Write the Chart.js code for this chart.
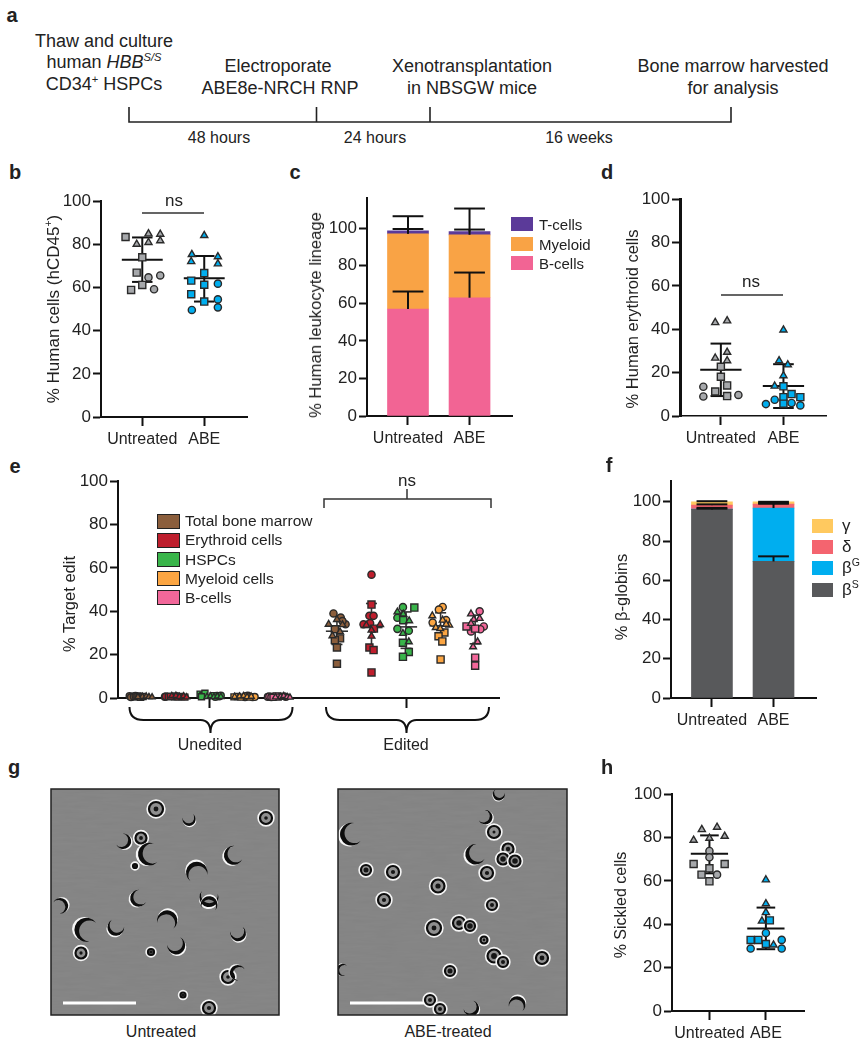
<!DOCTYPE html>
<html lang="en">
<head>
<meta charset="UTF-8">
<title>ABE editing panels</title>
<script src="https://cdn.jsdelivr.net/npm/chart.js"></script>
<style>
    html, body { margin: 0; padding: 0; background: #fff; }
    #page { position: relative; width: 868px; height: 1050px; overflow: hidden; font-family: "Liberation Sans", Arial, sans-serif; color: #222; }
    #page canvas { position: absolute; }
    #art { position: absolute; left: 0; top: 0; }
    .t { position: absolute; white-space: nowrap; transform: translate(-50%, -50%); }
    .swatch { position: absolute; box-sizing: border-box; }
    sup { font-size: 62%; line-height: 0; }
</style>
</head>
<body>
<div id="page">
    <svg id="art" width="868" height="1050" xmlns="http://www.w3.org/2000/svg"></svg>
</div>
<script>
    // shared
    const groupLabels = ['Untreated', 'ABE'];
    const percentTicks = [0, 20, 40, 60, 80, 100];
    const grey = '#a6a8ab', blue = '#00aeef';

    // b: [jitter from group centre, value]
    const bUntreatedTri = [[.10,84.9],[.29,84.7],[.29,81.7],[.10,80.9],[-.09,80.1]];
    const bUntreatedSq = [[-.27,83.4],[0,74],[-.09,66.9],[0,61.2],[-.18,58.9]];
    const bUntreatedCirc = [[.10,64.7],[.29,65.6],[.19,59.2]];
    const bAbeTri = [[0,84.1],[-.20,75.3],[.22,74.3],[-.21,72],[.22,71]];
    const bAbeSq = [[0,66.7],[-.21,63.2],[0,61.3],[-.21,56.9],[0,53.5]];
    const bAbeCirc = [[.22,61.8],[.22,54.5],[.22,50.8],[-.20,49.6]];
    const bStats = [{x:1,mean:72.9,hi:83.2,lo:62.6},{x:2,mean:64.3,hi:74.6,lo:53.5}];

    // c
    const cBcells = [57, 63];
    const cMyeloid = [40, 33.5];
    const cTcells = [1.6, 1.7];
    const cBcellsTop = [66.3, 76.4];
    const cMyeloidTop = [99.6, 99.3];
    const cTcellsTop = [106.4, 110.5];

    // d
    const dUntreatedTri = [[-.09,43.1],[.10,43.9],[.10,29.4],[-.09,26.7],[.10,25.5]];
    const dUntreatedSq = [[0,22.7],[0,18.1],[.10,14.1],[-.09,11.3],[.10,9.2]];
    const dUntreatedCirc = [[-.28,13.5],[-.28,9],[.28,9.7]];
    const dAbeTri = [[0,39.7],[-.07,25.5],[.07,23.6],[0,18.6],[-.14,13.8]];
    const dAbeSq = [[0,13.7],[.13,10.1],[.27,8.7],[0,8.7],[0,5.7]];
    const dAbeCirc = [[-.14,7.5],[.13,6],[-.28,5.5],[.27,4.9]];
    const dStats = [{x:1,mean:21.3,hi:33.4,lo:9.2},{x:2,mean:13.8,hi:23.9,lo:3.7}];

    // e
    const eCentres = [1, 2, 3, 4, 5, 6.68, 7.68, 8.68, 9.68, 10.68];
    const eColors = ['#8b5e3c', '#be1e2d', '#39b54a', '#fba542', '#f2679a'];
    const eLegend = ['Total bone marrow', 'Erythroid cells', 'HSPCs', 'Myeloid cells', 'B-cells'];
    const eTickValues = [3, 8.68];
    const eTickLabels = ['Unedited', 'Edited'];
    const eUneditedTri = [
        [[.05,.6],[.16,.8],[.24,.5],[.33,.4],[-.08,.5]],
        [[-.1,1],[.02,1.1],[.12,.6],[.24,.9],[.33,.4]],
        [[-.08,.6],[.02,.9],[.12,.5],[.22,.8],[.32,.6]],
        [[-.28,.6],[-.14,.8],[-.02,1],[.08,.5],[.2,.7]],
        [[.05,.6],[.14,1],[.24,.5],[.32,.3],[-.1,.4]]
    ];
    const eUneditedSq = [
        [[-.13,.5],[-.08,.9],[-.04,.6],[0,.3],[.07,.7]],
        [[-.2,.6],[-.14,.8],[.08,.4],[.18,.7],[.28,.4]],
        [[-.28,1.8],[-.2,1.2],[-.14,2.2],[-.24,.6],[.1,1.1]],
        [[-.3,.5],[-.2,.7],[-.1,.4],[.06,.9],[.16,.4]],
        [[-.14,.7],[-.08,1],[-.02,.4],[-.17,.3],[.1,.8]]
    ];
    const eUneditedCirc = [
        [[-.32,.9],[-.28,.4],[-.2,.7],[-.15,1]],
        [[-.3,.5],[-.27,.7],[-.06,.6],[.04,.9]],
        [[.2,1],[.27,.7],[.32,1.1],[.16,.5]],
        [[.24,.4],[.3,.5],[.1,1.1],[.02,.4]],
        [[-.32,.5],[-.28,.7],[-.22,.4],[.2,.5]]
    ];
    const eEditedTri = [
        [[0,36.2],[-.24,34],[.16,33.8],[-.13,28.7],[.09,30.5]],
        [[-.15,33.6],[.25,33.9],[0,31.3],[0,28.5]],
        [[-.25,39.7],[-.08,38.7],[.09,35.6],[-.09,29.8],[.08,25.9]],
        [[-.24,37.9],[.06,35.9],[.25,33.6],[-.14,32.5],[-.01,32],[.16,34]],
        [[-.12,38.8],[-.04,36.2],[.13,36.7],[-.12,34.4],[.07,25.9],[-.06,23.6]]
    ];
    const eEditedSq = [
        [[-.06,31.7],[.09,27.5],[-.06,26.7],[0,23.3],[0,15.8]],
        [[0,43.1],[.07,32],[-.06,23.3],[.06,22.1],[0,11.8]],
        [[.24,41.7],[-.08,35.9],[-.09,25.5],[.08,21.2],[-.09,19]],
        [[.11,30.2],[-.06,28.5],[.05,26.1],[0,17.8]],
        [[-.25,33],[0,32],[0,18.6],[0,14.9]]
    ];
    const eEditedCirc = [
        [[-.1,39],[.11,37.1],[.25,34],[.16,35.5]],
        [[0,56.9],[-.06,37.9],[.06,37.9],[-.23,34],[-.04,34.5]],
        [[-.09,41.9],[-.25,37],[-.25,31.9],[.08,31]],
        [[.06,42],[-.05,40.8],[-.23,34.8],[.16,35.9]],
        [[.13,40],[.25,33],[-.12,30.7],[.15,31.7]]
    ];
    const eEditedMean = [30.8, 32.5, 32.8, 33.3, 32.4];
    const eEditedHi = [38, 43.6, 39.7, 39.3, 38.2];
    const eEditedLo = [24.7, 22.5, 22.9, 27.1, 25];

    // f
    const fBetaS = [96.1, 69.6];
    const fBetaG = [.2, 27.2];
    const fDelta = [2, 2];
    const fGamma = [1.7, 1.2];
    const fBetaSTop = [96.5, 72.2];
    const fBetaGTop = [96.9, 99];
    const fDeltaTop = [98.7, 99.4];
    const fGammaTop = [100.3, 100];

    // h
    const hUntreatedTri = [[.135,84.8],[-.135,83.7],[.27,80.6],[0,79.7],[-.28,78.8]];
    const hUntreatedSq = [[-.28,67.8],[.27,67.8],[0,65.8],[-.14,62.9],[0,59.8]];
    const hUntreatedCirc = [[0,73.8],[0,70.9],[.135,62.9]];
    const hAbeTri = [[0,60.5],[0,49.5],[0,45.4],[-.07,41.5],[.135,30.5]];
    const hAbeSq = [[.07,41.8],[-.27,32.8],[-.135,32.8],[0,30.9]];
    const hAbeCirc = [[0,36],[.28,32.8],[-.27,28.8],[.28,28.8]];
    const hStats = [{x:1,mean:72.5,hi:81,lo:63.5},{x:2,mean:38,hi:47.7,lo:28.5}];

    const page = document.getElementById('page');
    const art = document.getElementById('art');

    function txt(html, cx, cy, size, extra) {
        const s = document.createElement('span');
        s.className = 't';
        s.innerHTML = html;
        s.style.left = cx + 'px';
        s.style.top = cy + 'px';
        s.style.fontSize = size + 'px';
        if (extra && extra.rot) s.style.transform = 'translate(-50%,-50%) rotate(-90deg)';
        if (extra && extra.bold) s.style.fontWeight = 'bold';
        if (extra && extra.left) s.style.transform = 'translate(0,-50%)';
        page.appendChild(s);
    }

    function swatch(x, y, w, h, color, border) {
        const d = document.createElement('div');
        d.className = 'swatch';
        d.style.cssText = `left:${x}px;top:${y}px;width:${w}px;height:${h}px;background:${color};` + (border ? `border:${border};` : '');
        page.appendChild(d);
    }

    // mean line + sd whiskers, read through the chart's scales
    function statsPlugin(items, opts) {
        function draw(chart) {
            const x = chart.scales.x, y = chart.scales.y, c = chart.ctx;
            c.save();
            c.strokeStyle = opts.color || '#111';
            c.lineWidth = opts.width || 2;
            const seg = (x1, y1, x2, y2) => {
                c.beginPath();
                c.moveTo(x.getPixelForValue(x1), y.getPixelForValue(y1));
                c.lineTo(x.getPixelForValue(x2), y.getPixelForValue(y2));
                c.stroke();
            };
            items.forEach(it => {
                seg(it.x, it.lo !== undefined ? it.lo : it.base, it.x, it.hi);
                seg(it.x - opts.cap, it.hi, it.x + opts.cap, it.hi);
                if (it.lo !== undefined) seg(it.x - opts.cap, it.lo, it.x + opts.cap, it.lo);
                if (it.mean !== undefined) seg(it.x - opts.meanHalf, it.mean, it.x + opts.meanHalf, it.mean);
            });
            c.restore();
        }
        return {
            id: 'stats',
            beforeDatasetsDraw(chart) { if (opts.behind) draw(chart); },
            afterDatasetsDraw(chart) { if (!opts.behind) draw(chart); }
        };
    }

    function markers(centre, pairs, shape, color, size) {
        const r = (shape === 'rect' ? 5 : shape === 'circle' ? 3.6 : 4.1) * (size || 1);
        return {
            data: pairs.map(p => ({ x: centre + p[0], y: p[1] })),
            pointStyle: shape,
            pointRadius: r,
            pointBackgroundColor: color,
            pointBorderColor: '#2a2a2a',
            pointBorderWidth: 1.4,
            showLine: false,
            clip: false
        };
    }

    function panel(box, type, datasets, o) {
        const left = 64, top = 12, right = 8, bottom = o.bottom || 44;
        const cv = document.createElement('canvas');
        const w = box.x1 - box.x0 + left + right, h = box.y1 - box.y0 + top + bottom;
        cv.width = w; cv.height = h;
        cv.style.cssText = `left:${box.x0 - left}px;top:${box.y0 - top}px;width:${w}px;height:${h}px;`;
        page.appendChild(cv);
        return new Chart(cv, {
            type: type,
            data: { datasets: datasets },
            plugins: o.plugins || [],
            options: {
                responsive: false,
                animation: false,
                layout: { padding: { left: 0, right: right, top: top, bottom: 0 } },
                plugins: { legend: { display: false }, tooltip: { enabled: false } },
                scales: {
                    x: {
                        type: 'linear', min: o.xMin, max: o.xMax, offset: false, stacked: type === 'bar',
                        afterBuildTicks: s => { s.ticks = o.xTicks.map(v => ({ value: v })); },
                        afterFit: s => { s.height = bottom; },
                        grid: { offset: false, drawOnChartArea: false, drawTicks: true, tickLength: o.xTickLen || 9, tickWidth: 2, tickColor: '#111' },
                        border: { color: '#111', width: o.xBorder || 2 },
                        ticks: {
                            autoSkip: false, maxRotation: 0, padding: o.xPad || 4, color: '#222',
                            font: { family: 'Liberation Sans', size: 16 },
                            callback: (v, i) => o.xLabels[i]
                        }
                    },
                    y: {
                        min: 0, max: o.yMax || 100, stacked: type === 'bar',
                        afterBuildTicks: s => { s.ticks = percentTicks.map(v => ({ value: v })); },
                        afterFit: s => { s.width = left; },
                        grid: { drawOnChartArea: false, drawTicks: true, tickLength: 8, tickWidth: 2, tickColor: '#111' },
                        border: { color: '#111', width: o.yBorder || 2 },
                        ticks: { padding: 2, color: '#222', font: { family: 'Liberation Sans', size: 17 } }
                    }
                }
            }
        });
    }

    function scatterGroups(u, a, size) {
        return [
            markers(1, u[0], 'triangle', grey, size), markers(1, u[1], 'rect', grey, size), markers(1, u[2], 'circle', grey, size),
            markers(2, a[0], 'triangle', blue, size), markers(2, a[1], 'rect', blue, size), markers(2, a[2], 'circle', blue, size)
        ];
    }

    function barSet(values, color) {
        return { data: values.map((v, i) => ({ x: i + 1, y: v })), backgroundColor: color, barThickness: 41, borderWidth: 0 };
    }

    const statOpts = { behind: true, cap: .165, meanHalf: .33, width: 2 };
    const twoGroups = [1, 2];

    // b
    panel({ x0: 101, x1: 247, y0: 201, y1: 417 }, 'scatter',
        scatterGroups([bUntreatedTri, bUntreatedSq, bUntreatedCirc], [bAbeTri, bAbeSq, bAbeCirc]),
        { xMin: .334, xMax: 2.69, xTicks: twoGroups, xLabels: groupLabels, plugins: [statsPlugin(bStats, statOpts)] });

    // c
    panel({ x0: 367, x1: 512, y0: 198, y1: 416 }, 'bar',
        [barSet(cBcells, '#f26494'), barSet(cMyeloid, '#f9a345'), barSet(cTcells, '#5b3a99')],
        {
            xMin: .334, xMax: 2.69, xTicks: twoGroups, xLabels: groupLabels, yMax: 116,
            plugins: [statsPlugin(twoGroups.flatMap((x, i) => [
                { x: x, base: cBcells[i], hi: cBcellsTop[i] },
                { x: x, base: cBcells[i] + cMyeloid[i], hi: cMyeloidTop[i] },
                { x: x, base: cBcells[i] + cMyeloid[i] + cTcells[i], hi: cTcellsTop[i] }
            ]), { cap: .25, width: 2 })]
        });

    // d
    panel({ x0: 680, x1: 826, y0: 199, y1: 416 }, 'scatter',
        scatterGroups([dUntreatedTri, dUntreatedSq, dUntreatedCirc], [dAbeTri, dAbeSq, dAbeCirc]),
        { xMin: .347, xMax: 2.68, xTicks: twoGroups, xLabels: groupLabels, yBorder: 3, xBorder: 1.5, plugins: [statsPlugin(dStats, statOpts)] });

    // e
    const eSets = [];
    eColors.forEach((col, i) => {
        eSets.push(markers(eCentres[i], eUneditedTri[i], 'triangle', col, .85));
        eSets.push(markers(eCentres[i], eUneditedSq[i], 'rect', col, .85));
        eSets.push(markers(eCentres[i], eUneditedCirc[i], 'circle', col, .95));
        eSets.push(markers(eCentres[i + 5], eEditedTri[i], 'triangle', col, .95));
        eSets.push(markers(eCentres[i + 5], eEditedSq[i], 'rect', col, 1));
        eSets.push(markers(eCentres[i + 5], eEditedCirc[i], 'circle', col, 1));
    });
    panel({ x0: 118, x1: 499, y0: 481, y1: 698 }, 'scatter', eSets, {
        xMin: .344, xMax: 11.37, xTicks: eTickValues, xLabels: eTickLabels, xTickLen: 10, xPad: 28, bottom: 64,
        plugins: [statsPlugin(eEditedMean.map((m, i) => ({ x: eCentres[i + 5], mean: m, hi: eEditedHi[i], lo: eEditedLo[i] })),
            { behind: true, cap: .16, meanHalf: .32, width: 1.6, color: '#333' })]
    });

    // f
    panel({ x0: 671, x1: 816, y0: 481, y1: 698 }, 'bar',
        [barSet(fBetaS, '#58595b'), barSet(fBetaG, blue), barSet(fDelta, '#f4646f'), barSet(fGamma, '#ffc95f')],
        {
            xMin: .335, xMax: 2.69, xTicks: twoGroups, xLabels: groupLabels, yMax: 110.5,
            plugins: [statsPlugin(twoGroups.flatMap((x, i) => [
                { x: x, base: fBetaS[i], hi: fBetaSTop[i] },
                { x: x, base: fBetaS[i] + fBetaG[i], hi: fBetaGTop[i] },
                { x: x, base: fBetaS[i] + fBetaG[i] + fDelta[i], hi: fDeltaTop[i] },
                { x: x, base: 100, hi: fGammaTop[i] }
            ]), { cap: .25, width: 2 })]
        });

    // h
    panel({ x0: 672, x1: 804, y0: 794, y1: 1011 }, 'scatter',
        scatterGroups([hUntreatedTri, hUntreatedSq, hUntreatedCirc], [hAbeTri, hAbeSq, hAbeCirc]),
        { xMin: .337, xMax: 2.675, xTicks: twoGroups, xLabels: groupLabels, plugins: [statsPlugin(hStats, statOpts)] });

    // panel letters
    [['a',12,15],['b',15,172],['c',295,172],['d',607,172],['e',15,466],['f',609,465],['g',14,767],['h',607,767]]
        .forEach(l => txt(l[0], l[1], l[2], 20, { bold: true }));

    // axis titles
    txt('% Human cells (hCD45<sup>+</sup>)', 54, 309, 17, { rot: true });
    txt('% Human leukocyte lineage', 316, 315, 16.6, { rot: true });
    txt('% Human erythroid cells', 632, 319, 16.5, { rot: true });
    txt('% Target edit', 69, 604, 16.5, { rot: true });
    txt('% β-globins', 621, 597, 16.5, { rot: true });
    txt('% Sickled cells', 621, 905, 16, { rot: true });

    // timeline text (a)
    txt('Thaw and culture', 104, 41, 18);
    txt('human <i>HBB</i><sup><i>S/S</i></sup>', 104, 62, 18);
    txt('CD34<sup>+</sup> HSPCs', 104, 84, 18);
    txt('Electroporate', 278, 66, 18);
    txt('ABE8e-NRCH RNP', 280, 88, 18);
    txt('Xenotransplantation', 472, 66, 18);
    txt('in NBSGW mice', 472, 88, 18);
    txt('Bone marrow harvested', 733, 66, 18);
    txt('for analysis', 733, 88, 18);
    txt('48 hours', 219, 138, 16);
    txt('24 hours', 375, 138, 16);
    txt('16 weeks', 579, 138, 16);

    // significance labels, legends, image captions
    txt('ns', 174, 201, 17);
    txt('ns', 751, 282, 17);
    txt('ns', 407, 481, 17);
    txt('Untreated', 161, 1032, 16);
    txt('ABE-treated', 448, 1032, 16);

    [['T-cells', '#5b3a99', 224], ['Myeloid', '#f9a345', 244], ['B-cells', '#f26494', 263]].forEach(l => {
        swatch(511, l[2] - 7, 22, 14, l[1]);
        txt(l[0], 539, l[2], 15, { left: true });
    });
    [['γ', '#ffc95f', 526], ['δ', '#f4646f', 547], ['β<sup>G</sup>', blue, 568], ['β<sup>S</sup>', '#58595b', 590]].forEach(l => {
        swatch(812, l[2] - 7, 21, 14, l[1]);
        txt(l[0], 842, l[2], 17, { left: true });
    });
    [521, 540, 559.5, 578.5, 597.5].forEach((y, i) => {
        swatch(157, y - 7.5, 23, 15, eColors[i], '1.5px solid #222');
        txt(eLegend[i], 185, y, 15.5, { left: true });
    });

    // line work and the two micrographs
    function brace(l, c, r) {
        return `<path d="M${l} 707Q${l} 720 ${l + 14} 720L${c - 10} 720Q${c} 720 ${c} 733Q${c} 720 ${c + 10} 720L${r - 14} 720Q${r} 720 ${r} 707" fill="none" stroke="#111" stroke-width="2"/>`;
    }
    function ring(x, y, r, dark) {
        return `<circle cx="${x}" cy="${y}" r="${r + 1.6}" fill="none" stroke="#f4f4f4" stroke-width="2.2"/>` +
            `<circle cx="${x}" cy="${y}" r="${r}" fill="#8f8f8f" stroke="#0d0d0d" stroke-width="2.2"/>` +
            `<circle cx="${x}" cy="${y}" r="${r * dark}" fill="#161616"/>`;
    }
    function sickle(x, y, s, a) {
        const shape = 'M-10 -6A12 12 0 1 0 10 -6A10.5 10.5 0 1 1 -10 -6Z';
        return `<g transform="translate(${x} ${y}) rotate(${a}) scale(${s})">` +
            `<path d="${shape}" transform="translate(0 2.5)" fill="#f6f6f6"/>` +
            `<path d="${shape}" fill="#0d0d0d"/></g>`;
    }
    const img1Rings = [[156,49,7,.35],[266,58,6,.3],[141,78,5.5,.35],[81,193,5.5,.3],[228,217,6,.3],[209,248,6,.35],[151,192,3,.6],[135,106,2,.6],[183,235,2.5,.6]];
    const img1Sickles = [[150,94,.95,80],[234,95,.8,60],[87,170,1,110],[167,161,.85,200],[139,138,.7,60],[123,81,.65,300],[189,59,.55,340],[197,113,.9,160],[209,137,.8,10],[209,145,.7,190],[238,173,.65,340],[176,185,.75,330],[116,167,.7,30],[60,146,.65,240],[238,213,.65,120]];
    const img2Rings = [[366,110,5,.5],[393,112,6,.35],[438,126,6.5,.4],[384,140,6,.35],[487,113,6,.35],[492,145,5,.4],[434,168,7,.35],[459,163,6,.45],[470,166,5,.55],[494,196,6.5,.45],[503,202,5,.4],[450,211,5,.5],[542,198,6,.4],[508,89,5.5,.4],[503,99,5.5,.5],[515,101,5.5,.5],[494,72,6,.25],[430,240,5,.4],[440,249,5,.4],[484,180,3.5,.4]];
    const img2Sickles = [[352,74,.95,70],[476,94,.85,60],[485,57,.6,300],[471,248,.65,320],[517,245,.7,200],[499,34,.5,20],[343,210,.5,100]];
    art.innerHTML =
        `<defs><clipPath id="c1"><rect x="51" y="789" width="228" height="226"/></clipPath><clipPath id="c2"><rect x="338" y="789" width="229" height="226"/></clipPath>` +
        `<filter id="grain"><feTurbulence type="fractalNoise" baseFrequency=".04 .35" numOctaves="2" seed="4"/><feColorMatrix values="0 0 0 0 .5 0 0 0 0 .5 0 0 0 0 .5 0 0 0 .1 0"/></filter></defs>` +
        // timeline
        `<path d="M129 107V122H731V107M316.5 107V122M430 107V122" fill="none" stroke="#222" stroke-width="1.6"/>` +
        // ns lines
        `<path d="M142 213H204M721 295H783" stroke="#333" stroke-width="1.5" fill="none"/>` +
        `<path d="M324 508V499H491V508M407 499V489" stroke="#333" stroke-width="1.5" fill="none"/>` +
        brace(129.5, 210.5, 292.5) + brace(326, 406.5, 489) +
        // micrographs
        `<rect x="51" y="789" width="228" height="226" fill="#828282"/><rect x="338" y="789" width="229" height="226" fill="#828282"/>` +
        `<g clip-path="url(#c1)"><rect x="51" y="789" width="228" height="226" filter="url(#grain)"/>` +
        `<g transform="translate(0 760)">` + img1Rings.map(p => ring(...p)).join('') + img1Sickles.map(p => sickle(...p)).join('') + `</g></g>` +
        `<g clip-path="url(#c2)"><rect x="338" y="789" width="229" height="226" filter="url(#grain)"/>` +
        `<g transform="translate(0 760)">` + img2Rings.map(p => ring(...p)).join('') + img2Sickles.map(p => sickle(...p)).join('') + `</g></g>` +
        `<rect x="51" y="789" width="228" height="226" fill="none" stroke="#222" stroke-width="1.5"/><rect x="338" y="789" width="229" height="226" fill="none" stroke="#222" stroke-width="1.5"/>` +
        `<path d="M63 1003H136M350 1003H424" stroke="#fff" stroke-width="3"/>`;
</script>
</body>
</html>
